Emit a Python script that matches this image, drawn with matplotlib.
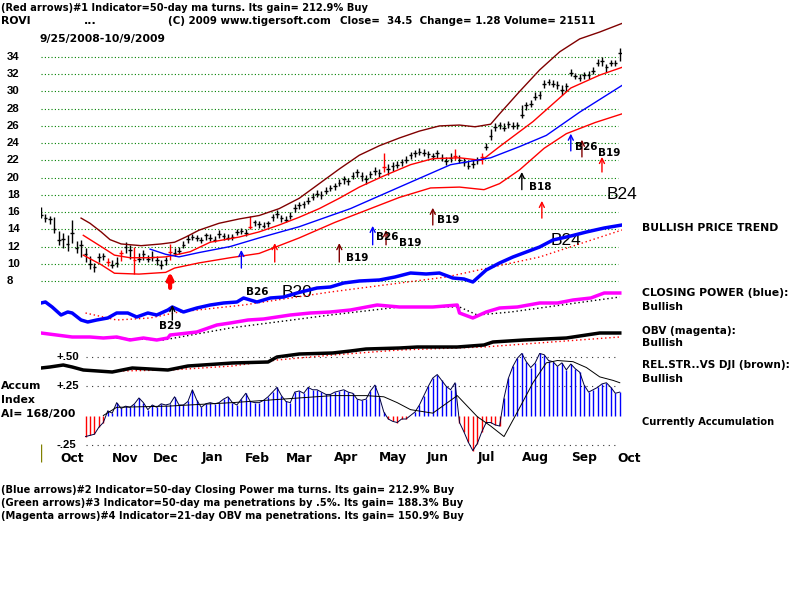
import numpy as np
import matplotlib.pyplot as plt
from matplotlib.transforms import blended_transform_factory as blend

plt.rcParams['font.family'] = ['DejaVu Sans']

W, H = 800, 600
NDAYS = 261   # trading days 9/25/2008 .. 10/9/2009

# ---------------- price bars (one bar every 2 trading days) ----------------
close = [15.7,15.3,15.2,14.0,12.8,12.9,12.3,13.6,11.8,12.2, 11.1,10.0,9.6,10.8,10.9,10.2,9.9,10.1,11.2,12.0,
         11.6,10.4,10.6,11.1,10.5,10.8,10.4,9.8,10.4,11.4, 11.3,11.5,12.2,12.9,13.1,13.0,12.7,13.3,13.0,12.8,
         13.4,13.2,13.0,13.1,13.7,13.8,13.6,14.3,14.8,14.6, 14.4,14.7,15.4,15.8,15.3,15.1,15.6,16.5,16.8,16.9,
         17.3,17.8,18.1,18.0,18.5,18.8,19.0,19.4,19.8,19.6, 20.2,20.6,20.2,19.8,20.4,20.8,20.5,21.2,21.0,21.3,
         21.5,21.8,22.1,22.6,22.8,23.0,22.9,22.7,22.5,22.8, 22.3,21.9,22.3,22.5,22.1,21.8,21.4,21.6,22.0,22.4,
         23.6,24.8,25.9,26.1,25.8,26.2,26.0,26.1,27.3,28.4, 28.6,29.4,29.6,30.9,31.1,30.9,30.8,30.2,30.6,32.2,
         31.8,31.6,31.9,31.9,32.4,33.3,33.5,32.8,33.3,33.3, 34.5]
high = [16.6,15.8,15.6,15.4,13.8,13.6,13.3,15.1,12.6,12.7, 11.8,10.9,10.1,11.2,11.3,10.7,10.4,10.8,11.6,12.5,
        12.2,12.0,11.3,11.6,11.0,11.5,10.9,10.4,10.8,12.3, 11.8,12.0,12.6,13.3,13.4,13.3,13.1,13.6,13.4,13.2,
        13.9,13.6,13.4,13.5,14.0,14.2,14.0,15.6,15.1,15.0, 14.8,15.0,15.8,16.2,15.7,15.5,16.0,16.9,17.2,17.3,
        17.7,18.2,18.6,18.4,18.9,19.2,19.4,19.8,20.2,20.0, 20.6,21.0,20.7,20.3,20.8,21.2,21.0,22.9,21.6,21.8,
        21.9,22.2,22.5,23.0,23.2,23.4,23.3,23.1,22.9,23.2, 22.7,22.4,22.8,23.3,22.6,22.3,21.9,22.0,22.4,22.8,
        24.0,25.6,26.3,26.5,26.3,26.6,26.5,26.5,28.4,28.8, 29.0,29.9,30.0,31.3,31.4,31.3,31.2,30.7,31.0,32.6,
        32.2,32.0,32.3,32.4,32.8,33.8,34.0,33.2,33.7,33.7, 35.0]
low = [15.3,14.9,14.6,13.6,12.2,11.8,11.5,12.4,11.2,10.8, 10.2,9.4,9.1,10.2,10.4,9.7,9.5,9.6,10.3,11.2,
       10.5,8.8,10.2,10.4,10.2,10.3,9.9,9.4,9.9,10.4, 10.9,11.1,11.8,12.4,12.7,12.6,12.4,12.8,12.6,12.5,
       13.0,12.8,12.7,12.8,13.3,13.4,13.2,14.0,14.4,14.2, 14.1,14.3,15.0,15.3,14.9,14.8,15.2,16.0,16.4,16.5,
       16.9,17.4,17.7,17.5,18.1,18.4,18.6,19.0,19.3,19.1, 19.8,20.1,19.6,19.3,20.0,20.3,20.1,20.7,20.3,20.8,
       21.1,21.4,21.7,22.2,22.4,22.6,22.5,22.3,22.1,22.3, 21.9,21.5,21.8,22.0,21.7,21.4,21.0,21.1,21.6,21.6,
       23.2,24.4,25.4,25.7,25.4,25.8,25.6,25.7,26.9,27.9, 28.2,29.0,29.1,30.4,30.7,30.5,30.3,29.6,30.1,31.8,
       31.4,31.2,31.5,31.5,32.0,32.9,33.0,32.3,32.9,33.0, 33.5]
red_bars = [15, 18, 21, 29, 47, 77, 93, 99]

# ---------------- bands ----------------
up_day = [18,22,27,31,36,45,54,60,65,71,80,89,98,107,116,125,134,143,152,161,170,179,188,195,202,206,215,224,233,242,251,261]
up_val = [15.3,14.7,13.7,12.8,12.3,12.1,12.3,12.5,13.1,13.9,14.7,15.2,15.6,16.4,17.6,19.3,21.0,22.6,23.7,24.6,25.4,26.0,26.1,25.9,26.2,27.4,30.0,32.5,34.6,36.1,36.9,37.9]
mid_day = [19,27,33,40,49,56,60,67,76,89,98,107,116,125,134,143,154,166,176,188,198,206,221,238,251,261]
mid_val = [13.3,12.0,11.0,10.7,10.7,10.8,11.0,11.4,12.5,13.1,13.7,14.5,15.4,16.4,17.6,18.9,20.2,21.5,22.2,22.3,22.0,23.6,26.5,30.4,31.9,32.8]
ma50_day = [49,56,62,71,85,98,116,139,161,184,202,215,227,242,261]
ma50_val = [11.7,11.1,10.8,11.3,12.0,13.0,14.3,16.4,18.9,21.5,22.3,23.6,24.9,27.6,30.7]
lo_day = [19,27,33,44,56,60,71,85,98,116,132,146,161,175,188,199,206,215,226,236,249,261]
lo_val = [11.0,9.9,8.9,8.8,9.0,9.5,10.1,10.7,11.2,13.0,14.8,16.2,17.7,18.8,18.9,18.6,19.3,20.9,23.4,25.1,26.4,27.4]

# ---------------- closing power (blue) ----------------
cp_day = [0,2,5,9,12,14,18,21,25,30,34,39,43,48,52,57,59,64,70,76,82,88,91,94,97,103,109,115,124,130,
          136,143,152,159,166,173,179,185,190,194,200,206,212,218,224,230,238,245,253,261]
cp_val = [27,28,23,15,18,17,10,8,10,12,17,17,13,17,15,20,23,18,22,25,27,28,32,30,28,32,33,37,42,43,
          47,49,50,53,57,56,57,52,51,48,60,67,73,78,83,90,94,98,102,105]
cpma_day = [20,34,49,62,91,130,182,224,261]
cpma_val = [17,10,12,18,25,38,53,73,100]

# ---------------- OBV (magenta) ----------------
obv_day = [0,7,14,22,28,34,40,46,52,57,58,70,79,85,93,100,106,112,121,130,
           139,151,161,176,187,188,194,200,206,214,224,232,239,247,253,260]
obv_val = [17,15,13,13,12,13,10,12,10,12,15,18,25,27,30,31,33,35,37,38,
           40,45,43,43,45,37,32,38,42,43,47,47,50,52,57,57]
obvma_day = [19,55,85,130,161,188,196,211,260]
obvma_val = [13,10,22,35,43,43,35,38,53]

# ---------------- relative strength vs DJI ----------------
rs_day = [0,4,10,14,19,32,41,57,66,86,102,106,116,131,139,146,161,169,187,199,203,217,236,251,260]
rs_val = [12,13,15,13,10,8,12,10,14,17,18,23,26,27,29,31,32,33,33,35,38,40,42,47,47]
rsma_day = [35,58,86,106,131,161,199,260]
rsma_val = [9,10,14,20,25,30,33,43]

# ---------------- accumulation index ----------------
nan = np.nan
ai = [nan]*10 + [-0.18,-0.17,-0.16,-0.10,-0.06,0.04,0.02,0.11,0.06,0.08,
      0.07,0.10,0.15,0.11,0.05,0.09,0.07,0.10,0.09,0.10, 0.16,0.09,0.09,0.12,0.22,0.13,0.07,0.10,0.11,0.10,
      0.11,0.14,0.16,0.11,0.09,0.14,0.19,0.12,0.11,0.11, 0.13,0.16,0.20,0.24,0.17,0.12,0.11,0.20,0.21,0.19,
      0.24,0.22,0.22,0.20,0.18,0.18,0.20,0.21,0.22,0.20, 0.19,0.14,0.13,0.14,0.21,0.26,0.16,0.03,-0.03,-0.05,
      -0.06,-0.03,-0.03,0.00,0.03,0.09,0.17,0.25,0.32,0.35, 0.30,0.25,0.22,0.28,-0.06,-0.14,-0.23,-0.30,-0.24,-0.14,
      -0.06,-0.06,-0.08,-0.09,0.15,0.32,0.42,0.49,0.53,0.46, 0.41,0.45,0.53,0.52,0.47,0.46,0.42,0.45,0.39,0.44,
      0.40,0.37,0.26,0.20,0.22,0.24,0.27,0.28,0.24,0.19, 0.20]
aima_day = [28,34,57,86,116,131,146,154,160,166,176,187,196,202,208,214,221,227,232,239,245,251,257,260]
aima_val = [0.0,0.07,0.08,0.11,0.15,0.17,0.17,0.16,0.11,0.05,0.02,0.17,-0.01,-0.09,-0.18,0.03,0.28,0.45,0.47,0.46,0.41,0.33,0.30,0.28]
vol_tick = [-0.40, -0.24]

# ---------------- signals (day, arrow tip, arrow tail) ----------------
red_sig = [(105, 12.4, 10.2), (225, 17.3, 15.3), (252, 22.4, 20.65)]
dkred_sig = [(134, 12.4, 10.2), (155, 13.9, 12.2), (176, 16.5, 14.5), (243, 24.4, 22.4)]
blue_sig = [(90, 11.6, 9.5), (149, 14.4, 12.2), (238, 25.1, 23.1)]
black_sig = [(216, 20.65, 18.6)]
big_sig = (58, 9.05, 7.2)
cp_sig = (59, 25, 10)
small_lbl = [('B26', 92, 6.7), ('B19', 137, 10.7), ('B26', 150.5, 13.1), ('B19', 161, 12.4),
             ('B19', 178, 15.1), ('B18', 219, 18.9), ('B26', 240, 23.5), ('B19', 250, 22.8)]
big_lbl = [('B20', 108, 6.7), ('B24', 254, 18.0), ('B24', 229, 12.75)]

price_ticks = [34, 32, 30, 28, 26, 24, 22, 20, 18, 16, 14, 12, 10, 8]
months = ['Oct', 'Nov', 'Dec', 'Jan', 'Feb', 'Mar', 'Apr', 'May', 'Jun', 'Jul', 'Aug', 'Sep', 'Oct']
month_day = [14, 38, 56, 77, 97, 116, 137, 158, 178, 200, 222, 244, 264]
ai_levels = [0.5, 0.25, -0.25]
ai_level_lbl = ['+.50', '+.25', '-.25']

fig = plt.figure(figsize=(W / 100, H / 100), dpi=100)
fig.patch.set_facecolor('white')


def panel(top, bottom, ylim):
    ax = fig.add_axes([41 / W, 1 - bottom / H, 581 / W, (bottom - top) / H])
    ax.set_xlim(0, NDAYS)
    ax.set_ylim(*ylim)
    ax.axis('off')
    return ax


FS = 7.8
bold = dict(fontsize=FS, fontweight='bold', color='black')
narrow = dict(fontsize=8.2, fontweight='bold', family='Liberation Sans')
dots = (0, (1, 2))

# price panel
axp = panel(20, 300, (34 - 243 / 8.615, 34 + 37 / 8.615))
axp.hlines(price_ticks, 0, 259, colors='#008000', linestyles=dots, lw=0.8)
tp = blend(fig.transFigure, axp.transData)
for t in price_ticks:
    axp.text(7 / W, t, str(t), transform=tp, ha='left', va='center', **narrow)

x = np.arange(len(close)) * 2
cols = ['red' if i in red_bars else 'black' for i in range(len(close))]
axp.vlines(x, low, high, colors=cols, lw=1)
axp.hlines(close, x - 0.8, x + 0.8, colors=cols, lw=1)

axp.plot(up_day, up_val, color='#800000', lw=1)
axp.plot(mid_day, mid_val, color='#ff0000', lw=1)
axp.plot(ma50_day, ma50_val, color='#0000ff', lw=1)
axp.plot(lo_day, lo_val, color='#ff0000', lw=1)


def arrow(ax, d, tip, tail, c, lw=1, style='->'):
    ax.annotate('', xy=(d, tip), xytext=(d, tail),
                arrowprops=dict(arrowstyle=style, color=c, lw=lw, mutation_scale=9,
                                shrinkA=0, shrinkB=0))


for s in red_sig:
    arrow(axp, *s, '#ff0000')
for s in dkred_sig:
    arrow(axp, *s, '#800000')
for s in blue_sig:
    arrow(axp, *s, '#0000ff')
for s in black_sig:
    arrow(axp, *s, 'black')
arrow(axp, *big_sig, '#ff0000', lw=3, style='-|>')
for s, d, v in small_lbl:
    axp.text(d, v, s, ha='left', va='center', fontsize=7.5, fontweight='bold')
for s, d, v in big_lbl:
    axp.text(d, v, s, ha='left', va='center', fontsize=12.5, family='Liberation Sans', zorder=5)

# closing power
axc = panel(215, 335, (-5, 115))
axc.plot(cpma_day, cpma_val, color='#ff0000', ls=dots, lw=1)
axc.plot(cp_day, cp_val, color='#0000ff', lw=2.5)
arrow(axc, *cp_sig, 'black')
axc.text(cp_sig[0] - 6, 4, 'B29', ha='left', va='center', fontsize=7.5, fontweight='bold')

# OBV
axo = panel(280, 350, (0, 70))
axo.plot(obvma_day, obvma_val, color='black', ls=dots, lw=1)
axo.plot(obv_day, obv_val, color='#ff00ff', lw=2.5)

# relative strength
axr = panel(320, 380, (0, 60))
axr.plot(rsma_day, rsma_val, color='#ff0000', ls=dots, lw=1)
axr.plot(rs_day, rs_val, color='black', lw=2.5)

# accumulation index
axa = panel(340, 470, ((415.5 - 470) / 117, (415.5 - 340) / 117))
axa.hlines(ai_levels, 20, 259, colors='#333333', linestyles=(0, (1, 4)), lw=0.8)
ta = blend(fig.transFigure, axa.transData)
for v, s in zip(ai_levels, ai_level_lbl):
    axa.text(56 / W, v, s, transform=ta, ha='left', va='center', **narrow)
aiv = np.array(ai)
axa.vlines(x, 0, aiv, colors=np.where(aiv >= 0, '#0000ff', '#ff0000'), lw=1)
axa.plot(x, aiv, color='#000040', lw=0.7)
axa.plot(aima_day, aima_val, color='black', lw=0.7)
axa.vlines(0, *vol_tick, colors='#808000', lw=1)

tm = blend(axa.transData, fig.transFigure)
for m, d in zip(months, month_day):
    axa.text(d, 1 - 458 / H, m, transform=tm, ha='center', va='center',
             fontsize=8.8, fontweight='bold')


def ftext(px, py, s, **kw):
    kw = {**bold, **kw}
    fig.text(px / W, 1 - py / H, s, ha='left', va='center', **kw)


ftext(1, 8, '(Red arrows)#1 Indicator=50-day ma turns. Its gain= 212.9% Buy', fontsize=7.1)
ftext(1, 21, 'ROVI')
ftext(84, 21, '...')
ftext(168, 21, '(C) 2009 www.tigersoft.com', fontsize=7.4)
ftext(340, 21, 'Close=  34.5  Change= 1.28 Volume= 21511', fontsize=7.4)
ftext(40, 39, '9/25/2008-10/9/2009')
ftext(642, 228, 'BULLISH PRICE TREND')
ftext(642, 293, 'CLOSING POWER (blue):')
ftext(642, 307, 'Bullish')
ftext(642, 331, 'OBV (magenta):', fontsize=7.5)
ftext(642, 343, 'Bullish')
ftext(642, 365, 'REL.STR..VS DJI (brown):', fontsize=7.6)
ftext(642, 379, 'Bullish')
ftext(642, 422, 'Currently Accumulation', fontsize=7.1)
ftext(1, 386, 'Accum')
ftext(1, 400, 'Index')
ftext(1, 414, 'AI= 168/200')
ftext(1, 490, '(Blue arrows)#2 Indicator=50-day Closing Power ma turns. Its gain= 212.9% Buy', fontsize=7.1)
ftext(1, 503, '(Green arrows)#3 Indicator=50-day ma penetrations by .5%. Its gain= 188.3% Buy', fontsize=7.1)
ftext(1, 516, '(Magenta arrows)#4 Indicator=21-day OBV ma penetrations. Its gain= 150.9% Buy', fontsize=7.1)

fig.savefig('out.png', dpi=100)
